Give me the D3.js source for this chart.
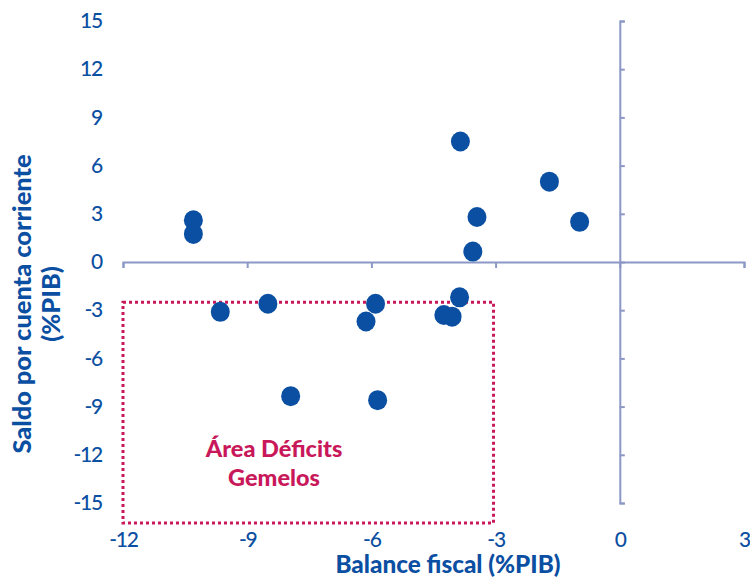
<!DOCTYPE html>
<html>
<head>
<meta charset="utf-8">
<script src="https://cdn.jsdelivr.net/npm/d3@7"></script>
<style>
  body { margin: 0; background: #fff; }
  svg { display: block; font-family: Lato, "Open Sans", sans-serif; }
</style>
</head>
<body>
<svg id="chart" width="750" height="578"></svg>
<script>
// fiscal balance (%GDP) and current account (%GDP)
const fiscal  = [-10.3, -10.3, -9.65, -8.5, -7.95, -6.13, -5.9, -5.85, -4.25, -4.05, -3.87, -3.85, -3.45, -3.55, -1.7, -0.97];
const account = [2.6, 1.75, -3.1, -2.6, -8.35, -3.7, -2.6, -8.6, -3.3, -3.4, -2.2, 7.5, 2.8, 0.65, 5.0, 2.5];
const xTicks = [-12, -9, -6, -3, 0, 3];
const yTicks = [-15, -12, -9, -6, -3, 0, 3, 6, 9, 12, 15];
const boxX = [-12, -3.05];
const boxY = [-2.5, -16.25];

const blue = '#0b4fa2';
const axisCol = '#8b98c5';
const red = '#c8185a';

const svg = d3.select('#chart');

const x = d3.scaleLinear().domain([-12, 3]).range([123, 744]);
const y = d3.scaleLinear().domain([-15, 15]).range([503, 21]);

// axis lines crossing at zero
const xAxis = svg.append('g')
  .attr('transform', `translate(0,${y(0)})`)
  .call(d3.axisBottom(x).tickValues(xTicks).tickSize(6).tickFormat(''));
const yAxis = svg.append('g')
  .attr('transform', `translate(${x(0)},0)`)
  .call(d3.axisRight(y).tickValues(yTicks).tickSize(5).tickFormat(''));
[xAxis, yAxis].forEach(g => {
  g.selectAll('path, line').attr('stroke', axisCol).attr('stroke-width', 2);
});

// tick labels placed low / left like the original
const fmt = d => String(d);
const xLab = svg.append('g')
  .attr('transform', 'translate(0,530)')
  .call(d3.axisBottom(x).tickValues(xTicks).tickSize(0).tickFormat(fmt));
const yLab = svg.append('g')
  .attr('transform', 'translate(102,0)')
  .call(d3.axisLeft(y).tickValues(yTicks).tickSize(0).tickFormat(fmt));
[xLab, yLab].forEach(g => {
  g.select('.domain').remove();
  g.selectAll('text')
    .attr('fill', blue)
    .style('font-family', 'Lato, sans-serif')
    .style('font-size', '21px')
    .style('font-weight', '500')
    .style('letter-spacing', '-1.2px');
});
xLab.selectAll('text').attr('dy', '0.35em').attr('y', 10);
yLab.selectAll('text').attr('x', 0);

// twin deficits box
svg.append('rect')
  .attr('x', x(boxX[0]))
  .attr('y', y(boxY[0]))
  .attr('width', x(boxX[1]) - x(boxX[0]))
  .attr('height', y(boxY[1]) - y(boxY[0]))
  .attr('fill', 'none')
  .attr('stroke', red)
  .attr('stroke-width', 3)
  .attr('stroke-dasharray', '3,3');

svg.append('text')
  .attr('x', 274).attr('y', 457)
  .attr('text-anchor', 'middle')
  .attr('fill', red)
  .style('font-weight', '900')
  .style('font-size', '23.5px')
  .text('Área Déficits');
svg.append('text')
  .attr('x', 274).attr('y', 486)
  .attr('text-anchor', 'middle')
  .attr('fill', red)
  .style('font-weight', '900')
  .style('font-size', '23.5px')
  .text('Gemelos');

// points
svg.append('g')
  .selectAll('ellipse')
  .data(fiscal.map((f, i) => [f, account[i]]))
  .enter()
  .append('ellipse')
  .attr('cx', d => x(d[0]))
  .attr('cy', d => y(d[1]))
  .attr('rx', 9.5)
  .attr('ry', 10)
  .attr('fill', blue);

// axis titles
svg.append('text')
  .attr('x', 448).attr('y', 573)
  .attr('text-anchor', 'middle')
  .attr('fill', blue)
  .style('font-weight', '900')
  .style('font-size', '24.3px')
  .text('Balance fiscal (%PIB)');

svg.append('text')
  .attr('transform', 'translate(31,304) rotate(-90)')
  .attr('text-anchor', 'middle')
  .attr('fill', blue)
  .style('font-weight', '900')
  .style('font-size', '25.4px')
  .text('Saldo por cuenta corriente');
svg.append('text')
  .attr('transform', 'translate(60,304) rotate(-90)')
  .attr('text-anchor', 'middle')
  .attr('fill', blue)
  .style('font-weight', '900')
  .style('font-size', '25.4px')
  .text('(%PIB)');
</script>
</body>
</html>
